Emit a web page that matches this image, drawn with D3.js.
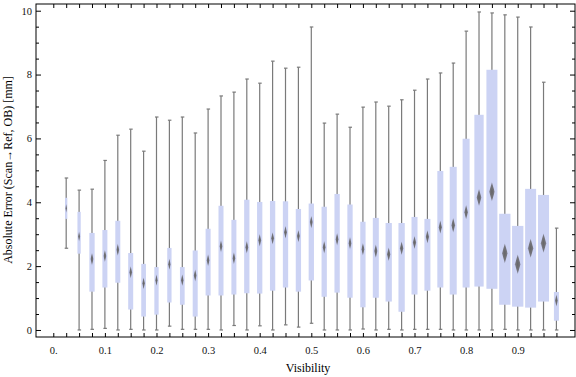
<!DOCTYPE html>
<html>
<head>
<meta charset="utf-8">
<script src="https://cdn.jsdelivr.net/npm/d3@7"></script>
<style>
  body { margin: 0; background: #fff; }
  text { font-family: "Liberation Serif", "DejaVu Serif", serif; }
</style>
</head>
<body>
<div id="chart"></div>
<script>
"use strict";

// bin centres (visibility)
const visibility = [0.025, 0.05, 0.075, 0.1, 0.125, 0.15, 0.175, 0.2, 0.225, 0.25,
  0.275, 0.3, 0.325, 0.35, 0.375, 0.4, 0.425, 0.45, 0.475, 0.5,
  0.525, 0.55, 0.575, 0.6, 0.625, 0.65, 0.675, 0.7, 0.725, 0.75,
  0.775, 0.8, 0.825, 0.85, 0.875, 0.9, 0.925, 0.95, 0.975];

const whiskerMin = [2.56, 0, 0.02, 0.05, 0, 0.02, 0, 0, 0.12, 0.02,
  0.02, 0.02, 0, 0.14, 0, 0.13, 0, 0.16, 0.09, 0.21,
  0, 0, 0, 0.03, 0, 0.02, 0, 0.02, 0.02, 0.02,
  0, 0, 0, 0, 0.02, 0, 0, 0, 0];

const q1 = [3.48, 2.39, 1.20, 1.33, 1.48, 0.64, 0.42, 0.48, 0.86, 0.79,
  0.42, 1.08, 1.08, 1.11, 1.15, 1.14, 1.23, 1.33, 1.20, 1.55,
  1.04, 1.17, 1.01, 0.71, 1.01, 0.89, 0.57, 1.11, 1.23, 1.33,
  1.11, 1.33, 1.36, 1.29, 0.79, 0.73, 0.70, 0.89, 0.29];

const median = [3.81, 2.93, 2.22, 2.32, 2.51, 1.81, 1.46, 1.56, 2.06, 1.56,
  1.71, 2.18, 2.62, 2.25, 2.59, 2.81, 2.87, 3.06, 2.94, 3.38,
  2.59, 2.84, 2.72, 2.53, 2.47, 2.37, 2.56, 2.74, 2.92, 3.22,
  3.28, 3.69, 4.15, 4.33, 2.40, 2.06, 2.56, 2.72, 0.92];

const q3 = [4.14, 3.70, 3.04, 3.13, 3.42, 2.41, 2.07, 1.97, 2.57, 1.97,
  2.49, 3.17, 3.89, 3.45, 4.08, 4.01, 4.04, 4.03, 3.79, 3.96,
  3.86, 4.26, 3.93, 3.39, 3.51, 3.35, 3.35, 3.54, 3.48, 4.98,
  5.11, 5.99, 6.74, 8.15, 3.64, 3.26, 4.42, 4.23, 1.19];

const whiskerMax = [4.76, 4.38, 4.41, 5.31, 6.10, 6.29, 5.60, 6.67, 6.57, 6.67,
  6.17, 6.92, 7.33, 7.45, 7.86, 7.73, 8.42, 8.20, 8.23, 9.49,
  6.48, 6.76, 6.35, 6.98, 7.14, 7.01, 7.21, 7.51, 7.86, 8.05,
  8.36, 9.36, 9.96, 9.93, 9.87, 9.80, 9.49, 7.76, 3.19];

// relative bin weight (drives box width)
const binWeight = [23, 33, 53, 50, 50, 50, 47, 43, 43, 47,
  50, 50, 50, 50, 53, 53, 53, 53, 53, 53,
  53, 53, 53, 53, 60, 63, 63, 60, 60, 60,
  70, 70, 93, 110, 113, 113, 110, 110, 50];

const xLabelValues = [0, 0.1, 0.2, 0.3, 0.4, 0.5, 0.6, 0.7, 0.8, 0.9];
const xLabels = ["0.", "0.1", "0.2", "0.3", "0.4", "0.5", "0.6", "0.7", "0.8", "0.9"];
const yLabelValues = [0, 2, 4, 6, 8, 10];
const yLabels = ["0", "2", "4", "6", "8", "10"];

const data = visibility.map((v, i) => ({
  v: v, lo: whiskerMin[i], q1: q1[i], med: median[i], q3: q3[i], hi: whiskerMax[i], w: binWeight[i]
}));

const width = 576, height = 377;
const frame = { left: 36, right: 575, top: 4, bottom: 337 };

const svg = d3.select("#chart").append("svg")
  .attr("width", width)
  .attr("height", height);

const x = d3.scaleLinear().domain([-0.0335, 1.011]).range([frame.left, frame.right]);
const y = d3.scaleLinear().domain([-0.22, 10.21]).range([frame.bottom, frame.top]);
const wScale = d3.scaleLinear().domain([0, 110]).range([0, 11]);

const defs = svg.append("defs");
const grad = defs.append("radialGradient").attr("id", "dia");
grad.append("stop").attr("offset", "0%").attr("stop-color", "#666666");
grad.append("stop").attr("offset", "70%").attr("stop-color", "#76767e");
grad.append("stop").attr("offset", "100%").attr("stop-color", "#9294ae");
defs.append("filter").attr("id", "soft")
  .append("feGaussianBlur").attr("stdDeviation", 0.4);

// whiskers
const g = svg.append("g");
g.selectAll("line.whisk")
  .data(data)
  .enter().append("line")
  .attr("class", "whisk")
  .attr("x1", d => x(d.v)).attr("x2", d => x(d.v))
  .attr("y1", d => y(d.lo)).attr("y2", d => y(d.hi))
  .attr("stroke", "#7a7a7a")
  .attr("stroke-width", 1.2);

["lo", "hi"].forEach(k => {
  g.selectAll("line.cap-" + k)
    .data(data)
    .enter().append("line")
    .attr("class", "cap-" + k)
    .attr("x1", d => x(d.v) - 1.5).attr("x2", d => x(d.v) + 2)
    .attr("y1", d => y(d[k])).attr("y2", d => y(d[k]))
    .attr("stroke", "#7a7a7a")
    .attr("stroke-width", 1.2);
});

// boxes
g.selectAll("rect.box")
  .data(data)
  .enter().append("rect")
  .attr("class", "box")
  .attr("x", d => x(d.v) - wScale(d.w) / 2)
  .attr("width", d => wScale(d.w))
  .attr("y", d => y(d.q3))
  .attr("height", d => y(d.q1) - y(d.q3))
  .attr("fill", "#ccd3f4");

// median diamonds
g.selectAll("path.med")
  .data(data)
  .enter().append("path")
  .attr("class", "med")
  .attr("d", d => {
    const cx = x(d.v), cy = y(d.med);
    const bw = wScale(d.w);
    const hw = bw * 0.22 + 0.3, hh = bw * 0.6 + 3;
    return `M${cx},${cy - hh}L${cx + hw},${cy}L${cx},${cy + hh}L${cx - hw},${cy}Z`;
  })
  .attr("fill", "url(#dia)")
  .attr("filter", "url(#soft)");

// frame axes
const xTickValues = [0].concat(visibility);
const yMinor = d3.range(0, 10.01, 0.5).filter(v => yLabelValues.indexOf(v) < 0);

function xFmt(d) {
  const i = xLabelValues.findIndex(v => Math.abs(v - d) < 1e-6);
  return i >= 0 ? xLabels[i] : "";
}
function yFmt(d) {
  const i = yLabelValues.indexOf(d);
  return i >= 0 ? yLabels[i] : "";
}

svg.append("g")
  .attr("transform", `translate(0,${frame.bottom})`)
  .call(d3.axisBottom(x).tickValues(xTickValues).tickSizeInner(-4).tickSizeOuter(0)
    .tickPadding(10).tickFormat(xFmt));
svg.append("g")
  .attr("transform", `translate(0,${frame.top})`)
  .call(d3.axisTop(x).tickValues(xTickValues).tickSizeInner(-4).tickSizeOuter(0).tickFormat(""));

svg.append("g")
  .attr("transform", `translate(${frame.left},0)`)
  .call(d3.axisLeft(y).tickValues(yLabelValues).tickSizeInner(-5).tickSizeOuter(0)
    .tickPadding(4).tickFormat(yFmt));
svg.append("g")
  .attr("transform", `translate(${frame.left},0)`)
  .call(d3.axisLeft(y).tickValues(yMinor).tickSizeInner(-3).tickSizeOuter(0).tickFormat(""));
svg.append("g")
  .attr("transform", `translate(${frame.right},0)`)
  .call(d3.axisRight(y).tickValues(yLabelValues).tickSizeInner(-5).tickSizeOuter(0).tickFormat(""));
svg.append("g")
  .attr("transform", `translate(${frame.right},0)`)
  .call(d3.axisRight(y).tickValues(yMinor).tickSizeInner(-3).tickSizeOuter(0).tickFormat(""));

svg.selectAll(".domain").remove();
svg.selectAll(".tick line").attr("stroke", "#000");
svg.selectAll(".tick text")
  .attr("font-size", "10.5px")
  .attr("fill", "#111");

svg.append("rect")
  .attr("x", frame.left).attr("y", frame.top)
  .attr("width", frame.right - frame.left)
  .attr("height", frame.bottom - frame.top)
  .attr("fill", "none")
  .attr("stroke", "#000")
  .attr("stroke-width", 1);

// axis titles
svg.append("text")
  .attr("x", 308)
  .attr("y", 372)
  .attr("text-anchor", "middle")
  .attr("font-size", "12px")
  .text("Visibility");

svg.append("text")
  .attr("transform", "rotate(-90)")
  .attr("x", -170)
  .attr("y", 12)
  .attr("text-anchor", "middle")
  .attr("font-size", "12px")
  .text("Absolute Error (Scan\u2192Ref, OB) [mm]");
</script>
</body>
</html>
